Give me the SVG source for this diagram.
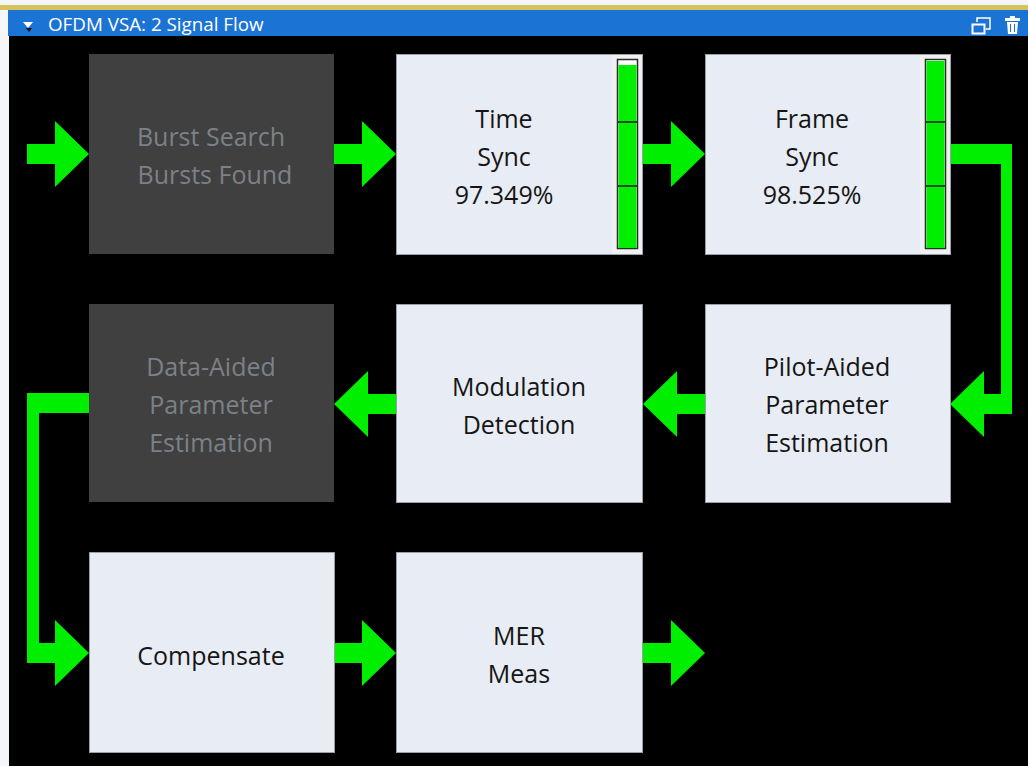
<svg xmlns="http://www.w3.org/2000/svg" width="1028" height="766" viewBox="0 0 1028 766">
<style>
.lb{fill:#e8ecf4;stroke:#9aa0a8;stroke-width:1}
.db{fill:#404040}
.t{font-family:"Open Sans","Noto Sans","Liberation Sans",sans-serif;font-size:25px;text-anchor:middle;fill:#151515}
.dt{fill:#7c8187}
.g{fill:#00ee00}
.mf{fill:#ffffff;stroke:#2a2a2a;stroke-width:1.5}
.div{stroke:#1a1a1a;stroke-width:1.5}
</style>
<rect x="0" y="0" width="1028" height="766" fill="#f4f6fa"/>
<rect x="0" y="5" width="1028" height="5" fill="#d8c25e"/>
<rect x="8" y="10" width="1020" height="26" fill="#1b74d3"/>
<rect x="9" y="36" width="1019" height="730" fill="#000000"/>
<g id="titlebar">
<path d="M23,22 L33,22 L28,28 Z" fill="#ffffff"/>
<path d="M26,28 L32,28 L29,32 Z" fill="#111111"/>
<text x="48" y="31" font-family="'Open Sans','Noto Sans','Liberation Sans',sans-serif" font-size="18.8" fill="#ffffff">OFDM VSA: 2 Signal Flow</text>
<rect x="972.5" y="24.5" width="12" height="9" fill="none" stroke="#ffffff" stroke-width="2"/>
<path d="M977,22 V18 H990 V29 H986" fill="none" stroke="#ffffff" stroke-width="1.5"/>
<rect x="1005" y="18" width="15" height="3" fill="#ffffff"/>
<rect x="1010" y="16" width="5" height="2" fill="#ffffff"/>
<path d="M1007,22 H1018 L1017,34 H1008 Z" fill="#ffffff"/>
<path d="M1010.5,24 V32 M1014.5,24 V32" stroke="#1b74d3" stroke-width="1"/>
</g>
<g id="connectors" class="g">
<path d="M27,144 H55 V121 L89,154 L55,187 V164 H27 Z"/>
<path d="M334,144 H362 V121 L396,154 L362,187 V164 H334 Z"/>
<path d="M643,144 H671 V121 L705,154 L671,187 V164 H643 Z"/>
<path d="M950,144 H1012 V414 H984 V437 L950,404 L984,371 V394 H1001 V164 H950 Z"/>
<path d="M705,394 H677 V371 L643,404 L677,437 V414 H705 Z"/>
<path d="M396,394 H368 V371 L334,404 L368,437 V414 H396 Z"/>
<path d="M89,393 H27 V663 H55 V686 L89,653 L55,620 V643 H39 V413 H89 Z"/>
<path d="M334,643 H362 V620 L396,653 L362,686 V663 H334 Z"/>
<path d="M643,643 H671 V620 L705,653 L671,686 V663 H643 Z"/>
</g>
<g id="burst-search">
<rect class="db" x="89" y="54" width="245" height="200"/>
<text class="t dt" x="211" y="146">Burst Search</text>
<text class="t dt" x="215" y="184">Bursts Found</text>
</g>
<g id="time-sync">
<rect class="lb" x="396.5" y="54.5" width="246" height="200"/>
<rect x="612" y="55" width="30" height="199" fill="#f0f1f3"/>
<text class="t" x="504" y="128">Time</text>
<text class="t" x="504" y="166">Sync</text>
<text class="t" x="504" y="204">97.349%</text>
<rect class="mf" x="617.5" y="59.5" width="20" height="189"/>
<rect class="g" x="618.5" y="65" width="18" height="183"/>
<path class="div" d="M618,122 H637 M618,186 H637"/>
</g>
<g id="frame-sync">
<rect class="lb" x="705.5" y="54.5" width="245" height="200"/>
<rect x="920" y="55" width="30" height="199" fill="#f0f1f3"/>
<text class="t" x="812" y="128">Frame</text>
<text class="t" x="812" y="166">Sync</text>
<text class="t" x="812" y="204">98.525%</text>
<rect class="mf" x="925.5" y="59.5" width="20" height="189"/>
<rect class="g" x="926.5" y="61" width="18" height="187"/>
<path class="div" d="M926,122 H945 M926,186 H945"/>
</g>
<g id="data-aided">
<rect class="db" x="89" y="304" width="245" height="198"/>
<text class="t dt" x="211" y="376">Data-Aided</text>
<text class="t dt" x="211" y="414">Parameter</text>
<text class="t dt" x="211" y="452">Estimation</text>
</g>
<g id="modulation-detection">
<rect class="lb" x="396.5" y="304.5" width="246" height="198"/>
<text class="t" x="519" y="396">Modulation</text>
<text class="t" x="519" y="434">Detection</text>
</g>
<g id="pilot-aided">
<rect class="lb" x="705.5" y="304.5" width="245" height="198"/>
<text class="t" x="827" y="376">Pilot-Aided</text>
<text class="t" x="827" y="414">Parameter</text>
<text class="t" x="827" y="452">Estimation</text>
</g>
<g id="compensate">
<rect class="lb" x="89.5" y="552.5" width="245" height="200"/>
<text class="t" x="211" y="665">Compensate</text>
</g>
<g id="mer-meas">
<rect class="lb" x="396.5" y="552.5" width="246" height="200"/>
<text class="t" x="519" y="645">MER</text>
<text class="t" x="519" y="683">Meas</text>
</g>
</svg>
